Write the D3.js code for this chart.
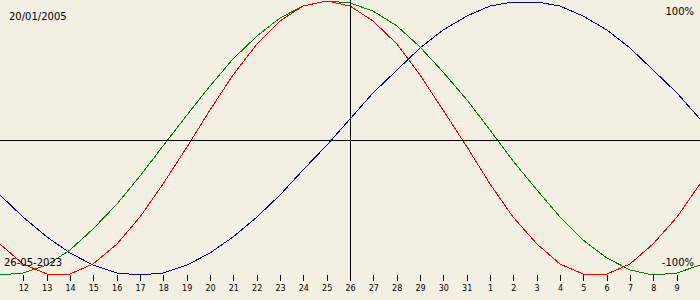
<!DOCTYPE html>
<html>
<head>
<meta charset="utf-8">
<script src="https://cdn.jsdelivr.net/npm/d3@7"></script>
<style>
  body { margin: 0; background: #f3efe3; }
  svg { display: block; font-family: "DejaVu Sans", sans-serif; }
  .curve { fill: none; stroke-width: 1; shape-rendering: crispEdges; }
</style>
</head>
<body>
<svg id="chart"></svg>
<script>
// one point per day, 11 May 2023 .. 10 June 2023
const days = [
  '2023-05-11', '2023-05-12', '2023-05-13', '2023-05-14', '2023-05-15', '2023-05-16',
  '2023-05-17', '2023-05-18', '2023-05-19', '2023-05-20', '2023-05-21', '2023-05-22',
  '2023-05-23', '2023-05-24', '2023-05-25', '2023-05-26', '2023-05-27', '2023-05-28',
  '2023-05-29', '2023-05-30', '2023-05-31', '2023-06-01', '2023-06-02', '2023-06-03',
  '2023-06-04', '2023-06-05', '2023-06-06', '2023-06-07', '2023-06-08', '2023-06-09',
  '2023-06-10'
];

const physical = [-77.6, -91.7, -99.1, -99.1, -91.7, -77.6, -57.7, -33.5, -6.8, 20.3, 46.0,
  68.3, 85.4, 96.3, 100.0, 96.3, 85.4, 68.3, 46.0, 20.3, -6.8, -33.5, -57.7, -77.6, -91.7,
  -99.1, -99.1, -91.7, -77.6, -57.7, -33.5];
const emotional = [-99.8, -98.6, -92.4, -81.6, -66.6, -48.4, -27.7, -5.6, 16.7, 38.3, 57.9,
  74.6, 87.5, 96.1, 99.8, 98.6, 92.4, 81.6, 66.6, 48.4, 27.7, 5.6, -16.7, -38.3, -57.9,
  -74.6, -87.5, -96.1, -99.8, -98.6, -92.4];
const intellectual = [-41.5, -58.0, -72.4, -84.1, -92.8, -98.2, -100.0, -98.2, -92.8, -84.1,
  -72.4, -58.0, -41.5, -23.6, -4.8, 14.2, 32.7, 50.0, 65.5, 78.6, 88.9, 96.0, 99.6, 99.6,
  96.0, 88.9, 78.6, 65.5, 50.0, 32.7, 14.2];

const birthLabel = '20/01/2005';
const dateLabel = '26-05-2023';
const topLabel = '100%';
const bottomLabel = '-100%';
const today = '2023-05-26';

const width = 700, height = 300;
const parse = d3.utcParse('%Y-%m-%d');
const dates = days.map(parse);

const svg = d3.select('#chart')
  .attr('width', width)
  .attr('height', height);

svg.append('rect')
  .attr('width', width)
  .attr('height', height)
  .attr('fill', '#f3efe3');

const x = d3.scaleUtc()
  .domain(d3.extent(dates))
  .range([0, width]);

const y = d3.scaleLinear()
  .domain([-100, 100])
  .range([275, 1]);

const line = d3.line()
  .x((d, i) => Math.round(x(dates[i])))
  .y(d => Math.round(y(d)));

const series = [
  { values: intellectual, color: '#000088' },
  { values: emotional, color: '#008000' },
  { values: physical, color: '#ee0000' }
];

svg.selectAll('path.curve')
  .data(series)
  .enter()
  .append('path')
  .attr('class', 'curve')
  .attr('stroke', d => d.color)
  .attr('d', d => line(d.values));

// zero line and today marker
svg.append('line')
  .attr('x1', 0)
  .attr('x2', width)
  .attr('y1', 140.5)
  .attr('y2', 140.5)
  .attr('stroke', '#000');

svg.append('line')
  .attr('x1', Math.round(x(parse(today))) + 0.5)
  .attr('x2', Math.round(x(parse(today))) + 0.5)
  .attr('y1', 0)
  .attr('y2', 281)
  .attr('stroke', '#000');

// day ticks
const axis = svg.append('g')
  .attr('transform', 'translate(0,275)')
  .call(d3.axisBottom(x)
    .tickValues(dates.slice(1, -1))
    .tickSize(6)
    .tickPadding(4)
    .tickFormat(d3.utcFormat('%-d')));

axis.select('.domain').remove();
axis.selectAll('.tick line')
  .attr('stroke', '#000')
  .attr('shape-rendering', 'crispEdges');
axis.selectAll('.tick text')
  .attr('fill', '#000')
  .style('font-family', '"DejaVu Sans", sans-serif')
  .style('font-size', '8px');

// corner labels
svg.append('text')
  .attr('x', 9)
  .attr('y', 20)
  .style('font-size', '10px')
  .text(birthLabel);

svg.append('text')
  .attr('x', 694)
  .attr('y', 15)
  .attr('text-anchor', 'end')
  .style('font-size', '10px')
  .text(topLabel);

svg.append('text')
  .attr('x', 4)
  .attr('y', 266)
  .style('font-size', '10px')
  .text(dateLabel);

svg.append('text')
  .attr('x', 694)
  .attr('y', 266)
  .attr('text-anchor', 'end')
  .style('font-size', '10px')
  .text(bottomLabel);
</script>
</body>
</html>
